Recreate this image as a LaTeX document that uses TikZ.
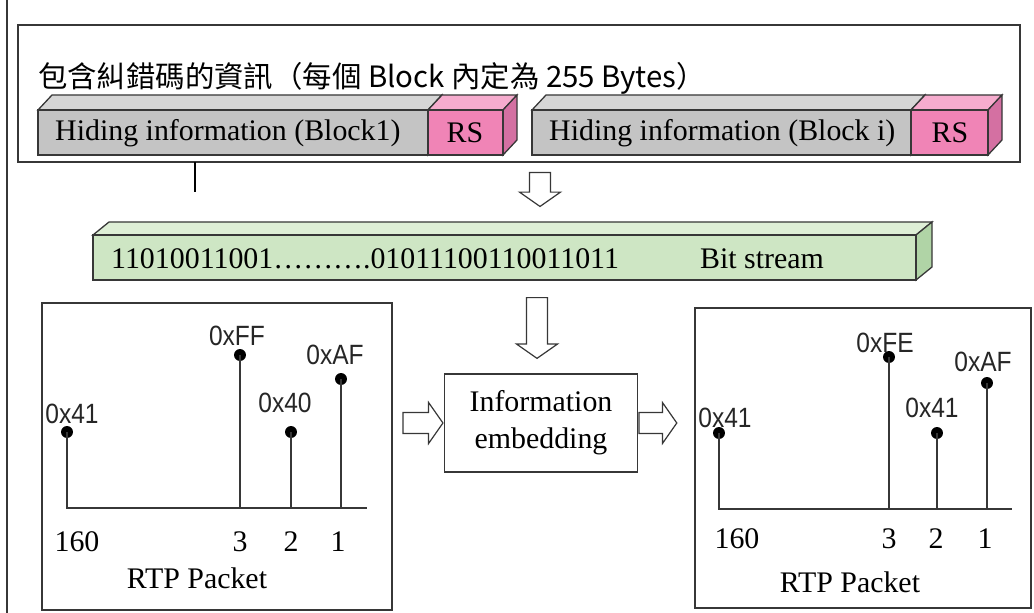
\documentclass[tikz,border=0pt]{standalone}
\usepackage{fontspec}
\setmainfont{Liberation Serif}
\newfontfamily\cjk{Noto Sans CJK TC}
\newfontfamily\hexfont[FakeStretch=0.88]{Liberation Sans}
\usetikzlibrary{positioning,shapes.arrows}
\definecolor{lineC}{RGB}{55,55,55}
\definecolor{grayF}{RGB}{196,196,196}
\definecolor{grayT}{RGB}{214,214,214}
\definecolor{grayS}{RGB}{170,170,170}
\definecolor{pinkF}{RGB}{240,132,182}
\definecolor{pinkT}{RGB}{246,172,206}
\definecolor{pinkS}{RGB}{212,112,162}
\definecolor{greenF}{RGB}{206,230,196}
\definecolor{greenT}{RGB}{222,239,214}
\definecolor{greenS}{RGB}{176,212,166}
\newcommand{\slab}[7]{%
  \filldraw[draw=lineC, line width=1.3, fill=#7T] (#1,#2) -- ++(#5,-#6) -- (#3+#5,#2-#6) -- (#3,#2) -- cycle;
  \filldraw[draw=lineC, line width=1.3, fill=#7S] (#3,#2) -- ++(#5,-#6) -- (#3+#5,#4-#6) -- (#3,#4) -- cycle;
  \filldraw[draw=lineC, line width=1.3, fill=#7F] (#1,#2) rectangle (#3,#4);}
\tikzstyle{txt} = [inner sep=0pt, font=\fontsize{30}{37}\selectfont]
\tikzstyle{hex} = [inner sep=0pt, text=black!85, font=\hexfont\fontsize{28}{30}\selectfont]
\tikzstyle{dot} = [circle, fill=black, inner sep=0pt, minimum size=12]
\tikzstyle{stem} = [line width=1.5, draw=lineC]
\tikzstyle{frame} = [draw=lineC, line width=1.4]
\tikzstyle{hollow} = [single arrow, draw=lineC, fill=white, line width=1.2, inner xsep=0pt, inner ysep=10pt, single arrow head extend=10pt, single arrow tip angle=110]

\begin{document}
\begin{tikzpicture}[x=1bp, y=-1bp]
\useasboundingbox (0,0) rectangle (1034,613);
\draw[line width=1.5, lineC] (7,0) -- (7,613);
\draw[frame] (18,25) rectangle (1020,162);
\node[inner sep=0pt, anchor=west, font=\cjk\fontsize{29.5}{31}\selectfont] (title) at (38,78) {包含糾錯碼的資訊（每個\ Block\ 內定為\ 255\ Bytes）};
\slab{38}{110}{428}{155}{14}{15}{gray}
\slab{428}{110}{503}{155}{14}{15}{pink}
\slab{532}{110}{911}{155}{14}{15}{gray}
\slab{911}{110}{988}{155}{14}{15}{pink}
\node[txt, anchor=west] (hid1) at (55,133) {Hiding information (Block1)};
\node[txt] (rs1) at (465,133) {RS};
\node[txt, anchor=west] (hid2) at (549,133) {Hiding information (Block i)};
\node[txt] (rs2) at (950,133) {RS};
\draw[line width=2.2, black] (195,162) -- (195,192);
\node[hollow, rotate=-90, anchor=tail, minimum height=34] (arrA) at (540,172) {};
\slab{93}{235}{916}{280}{16}{13}{green}
\node[txt, anchor=west] (bits) at (111,259) {11010011001……….01011100110011011};
\node[txt, anchor=west] (bitlbl) at (700,259) {Bit stream};
\node[hollow, rotate=-90, anchor=tail, minimum height=61] (arrB) at (537,297) {};
\node[frame, txt, align=center, minimum width=194, minimum height=98] (embed) at (541,423) {Information\\embedding};
\node[hollow, anchor=tip, minimum height=40] (arrC) at (embed.west) {};
\node[hollow, anchor=tail, minimum height=38] (arrD) at (embed.east) {};
% left packet
\draw[frame] (42,303) rectangle (392,610);
\coordinate (baseL) at (367,508);
\node[dot] (l160) at (67,432) {};
\node[dot] (l3) at (240,355) {};
\node[dot] (l2) at (291,432) {};
\node[dot] (l1) at (341,379) {};
\draw[stem] (l160.center) -- (67,508) -- (baseL);
\draw[stem] (l3.center) -- (l3.center |- baseL);
\draw[stem] (l2.center) -- (l2.center |- baseL);
\draw[stem] (l1.center) -- (l1.center |- baseL);
\node[hex] at (72,414) {0x41};
\node[hex] at (237,336) {0xFF};
\node[hex] at (285,403) {0x40};
\node[hex] at (335,355) {0xAF};
\node[txt] at (77,542) {160};
\node[txt] at (240,542) {3};
\node[txt] at (291,542) {2};
\node[txt] at (338,542) {1};
\node[txt] (pktL) at (197,578) {RTP Packet};
% right packet
\draw[frame] (695,308) rectangle (1031,608);
\coordinate (baseR) at (1012,509);
\node[dot] (r160) at (719,433) {};
\node[dot] (r3) at (889,357) {};
\node[dot] (r2) at (937,433) {};
\node[dot] (r1) at (987,383) {};
\draw[stem] (r160.center) -- (719,509) -- (baseR);
\draw[stem] (r3.center) -- (r3.center |- baseR);
\draw[stem] (r2.center) -- (r2.center |- baseR);
\draw[stem] (r1.center) -- (r1.center |- baseR);
\node[hex] at (725,418) {0x41};
\node[hex] at (885,343) {0xFE};
\node[hex] at (932,408) {0x41};
\node[hex] at (983,362) {0xAF};
\node[txt] at (737,539) {160};
\node[txt] at (889,539) {3};
\node[txt] at (936,539) {2};
\node[txt] at (985,539) {1};
\node[txt] (pktR) at (850,582) {RTP Packet};
\end{tikzpicture}
\end{document}
